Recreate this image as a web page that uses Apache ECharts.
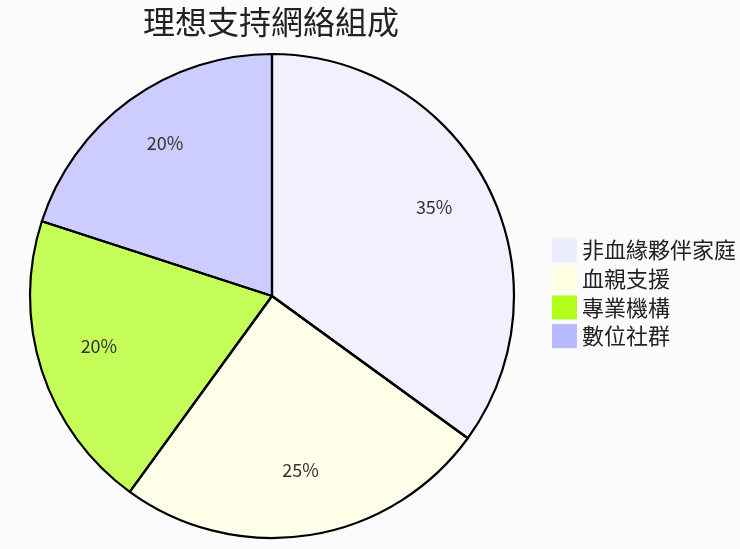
<!DOCTYPE html>
<html><head><meta charset="utf-8">
<script src="https://cdn.jsdelivr.net/npm/echarts@6/dist/echarts.min.js"></script>
<style>html,body{margin:0;padding:0;background:#fbfbfb}#c{width:740px;height:549px}</style>
</head><body><div id="c"></div>
<script>
const categories = ['非血緣夥伴家庭','血親支援','專業機構','數位社群'];
const values = [35, 25, 20, 20];
const colors = ['#ececff','#ffffe2','#b2ff1a','#babaff'];
const titleText = '理想支持網絡組成';

const font = '"Noto Sans CJK TC","Noto Sans",sans-serif';
const data = categories.map((n,i)=>({name:n, value:values[i], itemStyle:{color:colors[i]}}));
const ghost = categories.map((n,i)=>({name:n+' ',value:values[i]}));
const chart = echarts.init(document.getElementById('c'));
chart.setOption({
  backgroundColor:'#fbfbfb',
  animation:false,
  title:{text:titleText,left:266,textAlign:'center',top:1,textStyle:{fontFamily:font,fontSize:32,fontWeight:'normal',color:'#222'}},
  legend:{orient:'vertical',left:547,top:233,itemWidth:25,itemHeight:24,itemGap:4.7,icon:'rect',
    itemStyle:{opacity:1,borderWidth:0},
    textStyle:{fontFamily:font,fontSize:22,color:'#222'},data:categories},
  series:[
    {type:'pie',center:[272,296],radius:242,startAngle:90,clockwise:true,
     itemStyle:{opacity:0.72,borderWidth:0},
     label:{show:false},labelLine:{show:false},emphasis:{disabled:true},
     data:data},
    {type:'pie',center:[272,296],radius:242,startAngle:90,clockwise:true,silent:true,
     itemStyle:{color:'transparent',borderColor:'#000',borderWidth:2.2},
     label:{show:false},labelLine:{show:false},emphasis:{disabled:true},legendHoverLink:false,
     data:ghost},
    {type:'pie',center:[272,296],radius:[116,242],startAngle:90,clockwise:true,silent:true,
     itemStyle:{color:'transparent',borderWidth:0},
     label:{show:true,position:'inside',formatter:'{c}%',offset:[0,-6],fontFamily:font,fontSize:18,color:'#333'},
     labelLine:{show:false},emphasis:{disabled:true},legendHoverLink:false,
     data:ghost}
  ]
});
</script></body></html>
